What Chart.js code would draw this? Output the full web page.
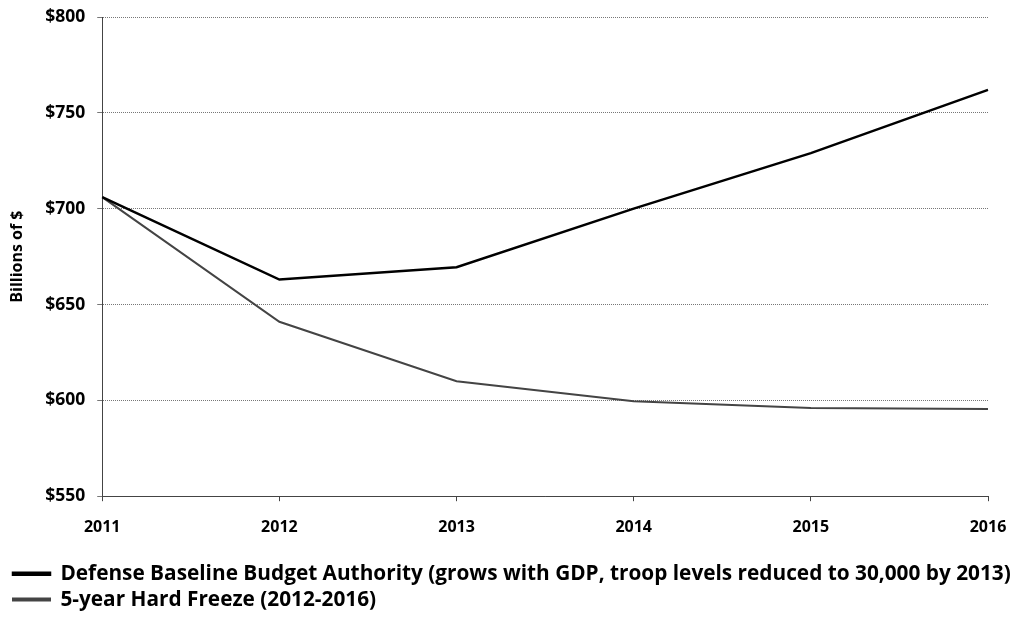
<!DOCTYPE html>
<html>
<head>
<meta charset="utf-8">
<script src="https://cdn.jsdelivr.net/npm/chart.js@4/dist/chart.umd.min.js"></script>
<style>
	html, body { margin: 0; padding: 0; background: #fff; }
	#wrap { width: 1017px; height: 622px; }
</style>
</head>
<body>
<div id="wrap"><canvas id="chart"></canvas></div>
<script>
var years = ['2011', '2012', '2013', '2014', '2015', '2016'];
var baseline = [706, 663, 669.5, 700, 729, 762];
var freeze = [706, 641, 610, 599.5, 596, 595.5];
var yTicks = [550, 600, 650, 700, 750, 800];

var baselineLabel = 'Defense Baseline Budget Authority (grows with GDP, troop levels reduced to 30,000 by 2013)';
var freezeLabel = '5-year Hard Freeze (2012-2016)';

var fontFamily = '"Open Sans", Lato, sans-serif';

var chart = new Chart(document.getElementById('chart'), {
	type: 'line',
	data: {
		labels: years,
		datasets: [{
			label: baselineLabel,
			data: baseline,
			borderColor: '#000',
			backgroundColor: '#000',
			borderWidth: 2.5,
			pointRadius: 0,
			tension: 0
		}, {
			label: freezeLabel,
			data: freeze,
			borderColor: '#444',
			backgroundColor: '#777',
			borderWidth: 2,
			pointRadius: 0,
			tension: 0
		}]
	},
	options: {
		responsive: true,
		maintainAspectRatio: false,
		animation: false,
		layout: { padding: { left: 8, right: 2, top: 17, bottom: 2 } },
		plugins: {
			tooltip: { enabled: false },
			legend: {
				position: 'bottom',
				align: 'start',
				labels: {
					color: '#000',
					boxWidth: 37,
					boxHeight: 2,
					padding: 5,
					font: { family: fontFamily, size: 20.8, weight: 'bold' }
				}
			}
		},
		scales: {
			x: {
				type: 'category',
				offset: false,
				afterFit: function (axis) {
					// keep room on the right and a gap above the legend
					axis.paddingRight = 29;
					axis.height += 4;
				},
				grid: { drawOnChartArea: false, drawTicks: true, tickLength: 5, color: '#444' },
				border: { display: true, color: '#444', dash: [1, 1] },
				ticks: {
					color: '#000',
					padding: 17,
					maxRotation: 0,
					font: { family: fontFamily, size: 16, weight: 'bold' }
				}
			},
			y: {
				min: 550,
				max: 800,
				afterBuildTicks: function (axis) {
					axis.ticks = yTicks.map(function (v) { return { value: v }; });
				},
				afterFit: function (axis) {
					axis.paddingTop = 0;
				},
				grid: { color: '#777', lineWidth: 1, tickLength: 5 },
				border: { display: true, color: '#444', dash: [1, 1] },
				title: {
					display: true,
					text: 'Billions of $',
					color: '#000',
					padding: { top: 0, bottom: 6 },
					font: { family: fontFamily, size: 16, weight: 'bold' }
				},
				ticks: {
					color: '#000',
					padding: 12,
					callback: function (v) { return '$' + v; },
					font: { family: fontFamily, size: 17.5, weight: 'bold' }
				}
			}
		}
	}
});
</script>
</body>
</html>
